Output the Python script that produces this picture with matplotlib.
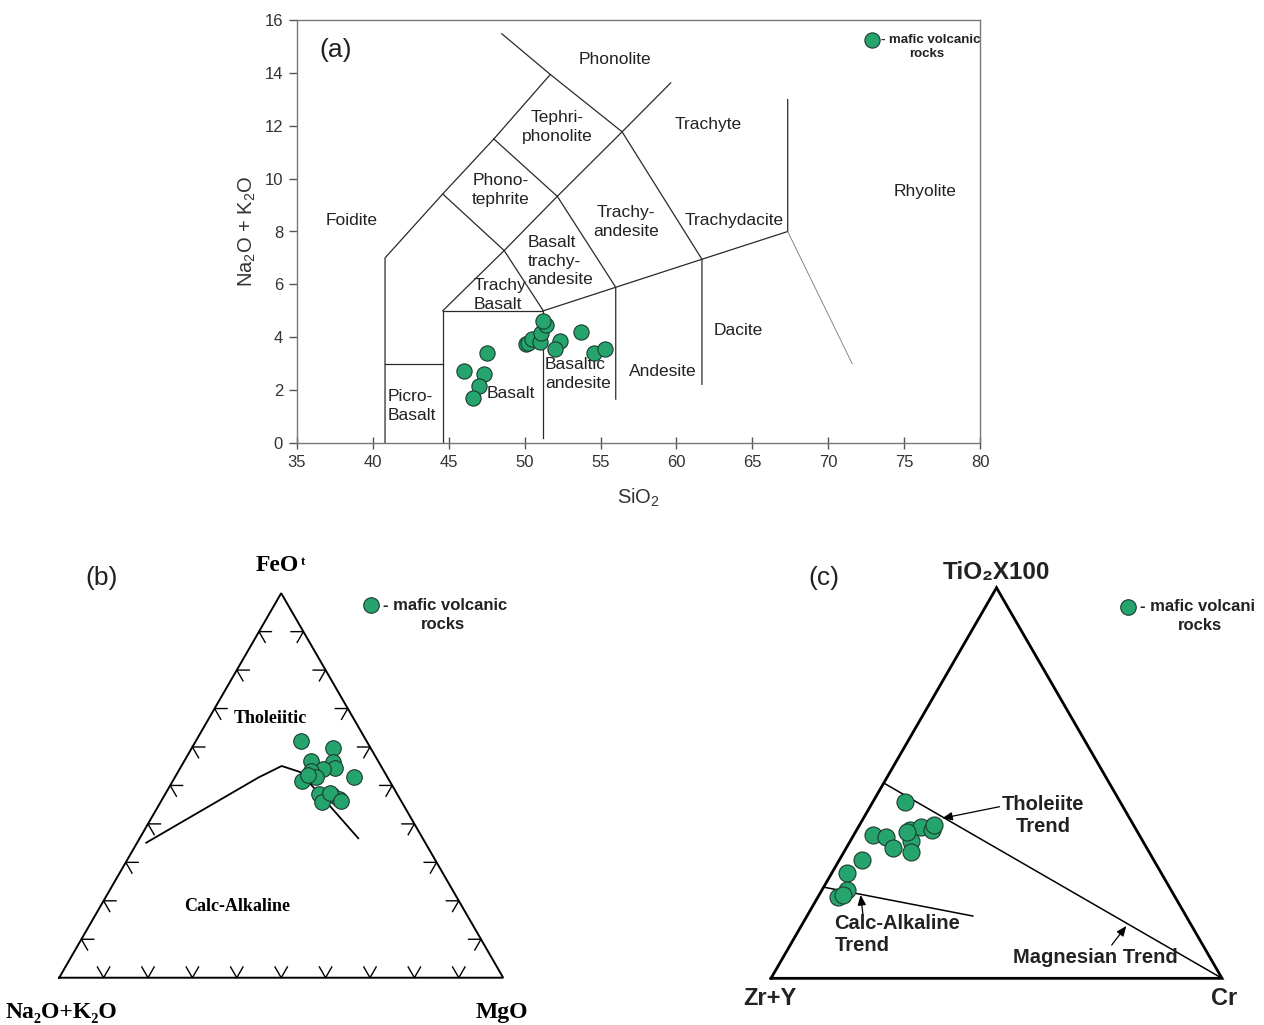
import numpy as np
import matplotlib
matplotlib.use('Agg')
import matplotlib.pyplot as plt

plt.rcParams['font.family'] = ['Liberation Sans', 'DejaVu Sans']
plt.rcParams['mathtext.fontset'] = 'custom'
plt.rcParams['mathtext.rm'] = 'Liberation Sans'
plt.rcParams['mathtext.it'] = 'Liberation Sans:italic'
plt.rcParams['mathtext.bf'] = 'Liberation Sans:bold'

GREEN = '#25a56d'
EDGE = '#1d3b2e'
LINE = '#2a2a2a'

# ---------------- (a) TAS data ----------------
sio2 = [46.0, 47.5, 47.3, 47.0, 46.6, 50.1, 50.2, 50.5, 51.0, 51.1, 51.4, 51.2,
        52.3, 52.0, 53.7, 54.6, 55.3]
alkali = [2.72, 3.39, 2.61, 2.16, 1.71, 3.73, 3.77, 3.92, 3.83, 4.17, 4.46, 4.61,
          3.87, 3.56, 4.21, 3.42, 3.54]

tas_boundaries = [
    [(40.8, 0), (40.8, 7.0), (44.6, 9.42), (47.97, 11.5), (51.69, 13.94)],
    [(40.8, 3.0), (44.6, 3.0)],
    [(44.6, 0), (44.6, 5.0), (51.23, 5.0), (51.23, 0.2)],
    [(44.6, 5.0), (48.65, 7.28), (52.15, 9.33), (56.42, 11.77), (59.62, 13.62)],
    [(48.49, 15.48), (51.69, 13.94), (56.42, 11.77), (61.68, 6.95), (61.68, 2.22)],
    [(44.6, 9.42), (48.65, 7.28), (51.23, 5.0)],
    [(47.97, 11.5), (52.15, 9.33), (56.0, 5.89), (56.0, 1.66)],
    [(51.23, 5.0), (56.0, 5.89), (61.68, 6.95), (67.33, 8.0), (67.33, 12.99)],
]
tas_thin = [(67.33, 8.0), (71.58, 3.0)]

# field labels: (text, x, y, ha)
tas_labels = [
    ("Phonolite", 55.95, 14.49, 'center'),
    ("Tephri-\nphonolite", 52.13, 11.95, 'center'),
    ("Trachyte", 62.08, 12.03, 'center'),
    ("Phono-\ntephrite", 48.44, 9.57, 'center'),
    ("Rhyolite", 76.38, 9.53, 'center'),
    ("Foidite", 38.62, 8.40, 'center'),
    ("Trachy-\nandesite", 56.68, 8.36, 'center'),
    ("Trachydacite", 63.79, 8.43, 'center'),
    ("Basalt\ntrachy-\nandesite", 50.2, 6.88, 'left'),
    ("Trachy\nBasalt", 46.66, 5.6, 'left'),
    ("Dacite", 64.06, 4.24, 'center'),
    ("Basaltic\nandesite", 51.34, 2.61, 'left'),
    ("Andesite", 59.11, 2.72, 'center'),
    ("Basalt", 49.1, 1.89, 'center'),
    ("Picro-\nBasalt", 41.0, 1.40, 'left'),
]

# ---------------- (b) AFM data (FeOt, Na2O+K2O, MgO) ----------------
afm_F = [61.6, 59.8, 56.4, 56.2, 54.5, 54.2, 53.8, 52.3, 51.2, 52.1, 47.8, 47.5,
         46.4, 45.8, 52.7, 48.0, 46.0]
afm_A = [14.8, 8.4, 15.2, 10.2, 10.6, 13.4, 16.3, 16.1, 19.7, 7.5, 17.6, 14.8,
         13.8, 18.0, 17.6, 15.0, 13.6]
afm_M = [23.7, 31.8, 28.5, 33.6, 34.9, 32.4, 29.9, 31.6, 29.1, 40.4, 34.7, 37.7,
         39.8, 36.2, 29.7, 37.1, 40.4]
afm_line_F = [35.1, 52.08, 55.06, 53.5, 36.26]
afm_line_A = [62.85, 29.06, 22.36, 19.02, 14.51]
afm_line_M = [2.05, 18.86, 22.58, 27.48, 49.23]

# ---------------- (c) TiO2-(Zr+Y)-Cr data ----------------
c_Ti = [45.1, 36.7, 36.1, 33.3, 38.0, 35.2, 32.4, 38.7, 38.0, 39.3, 30.3, 27.0,
        22.6, 20.9, 21.3, 37.5]
c_ZrY = [47.8, 59.1, 56.4, 56.4, 50.1, 51.4, 52.8, 47.3, 45.4, 44.3, 64.7, 69.7,
         71.9, 74.7, 73.3, 51.0]
c_Cr = [7.1, 4.2, 7.5, 10.3, 11.9, 13.5, 14.8, 14.0, 16.7, 16.4, 5.0, 3.3,
        5.5, 4.4, 5.4, 11.5]
thol_line_Ti, thol_line_ZrY, thol_line_Cr = [50, 0], [50, 0], [0, 100]
calc_line_Ti, calc_line_ZrY, calc_line_Cr = [23.3, 15.95], [76.5, 47.28], [0.2, 36.77]

SQ3 = np.sqrt(3) / 2


def tern(top, left, right):
    top = np.asarray(top, float)
    left = np.asarray(left, float)
    right = np.asarray(right, float)
    s = top + left + right
    t, r = top / s, right / s
    return r + t / 2, t * SQ3


def draw_triangle(ax, lw, ticks=False):
    xs, ys = tern([0, 0, 100, 0], [100, 0, 0, 100], [0, 100, 0, 0])
    ax.plot(xs, ys, color='black', lw=lw, solid_joinstyle='miter', zorder=2)
    if ticks:
        L = 0.028
        for i in range(1, 10):
            f = i / 10
            segs = [
                ((f, 0), (-0.5, SQ3), (0.5, SQ3)),
                ((f * 0.5, f * SQ3), (1, 0), (0.5, -SQ3)),
                ((1 - f * 0.5, f * SQ3), (-1, 0), (-0.5, -SQ3)),
            ]
            for p, d1, d2 in segs:
                ax.plot([p[0] + L * d1[0], p[0], p[0] + L * d2[0]],
                        [p[1] + L * d1[1], p[1], p[1] + L * d2[1]],
                        color='black', lw=1.0, zorder=2)


fig = plt.figure(figsize=(12.64, 10.25), dpi=100)

# ================= panel (a) =================
ax = fig.add_axes([297 / 1264, 1 - 443 / 1025, 683 / 1264, 423 / 1025])
ax.set_xlim(35, 80)
ax.set_ylim(0, 16)
ax.set_xticks(np.arange(35, 81, 5))
ax.set_yticks(np.arange(0, 17, 2))
ax.tick_params(axis='x', direction='inout', length=9, width=1, colors='#555',
               labelsize=12, labelcolor='#333', pad=4)
ax.tick_params(axis='y', direction='out', length=6, width=1, colors='#555',
               labelsize=12, labelcolor='#333', pad=4)
for sp in ax.spines.values():
    sp.set_color('#777')
    sp.set_linewidth(1.0)
for seg in tas_boundaries:
    xs, ys = zip(*seg)
    ax.plot(xs, ys, color=LINE, lw=0.9, zorder=2)
xs, ys = zip(*tas_thin)
ax.plot(xs, ys, color='#777', lw=0.6, zorder=2)
for txt, x, y, ha in tas_labels:
    ax.text(x, y, txt, ha=ha, va='center', fontsize=12.5, color='#222',
            linespacing=1.3, multialignment='left' if ha == 'left' else 'center',
            zorder=3)
ax.scatter(sio2, alkali, s=120, color=GREEN, edgecolor=EDGE, linewidth=0.8, zorder=4)
ax.text(37.57, 14.86, "(a)", fontsize=19, ha='center', va='center', color='#222')
ax.set_xlabel("SiO$_2$", fontsize=14.5, color='#333', labelpad=12)
ax.set_ylabel("Na$_2$O + K$_2$O", fontsize=14.5, color='#333', labelpad=5)
# legend key
ax.scatter([72.88], [15.24], s=120, color=GREEN, edgecolor=EDGE, linewidth=0.8,
           zorder=4, clip_on=False)
ax.text(73.45, 15.24, "- mafic volcanic", fontsize=9.5, fontweight='bold',
        ha='left', va='center', color='#222')
ax.text(76.5, 14.71, "rocks", fontsize=9.5, fontweight='bold',
        ha='center', va='center', color='#222')

# ================= panel (b) =================
axb = fig.add_axes([0, 0, 540 / 1264, 485 / 1025])
axb.set_xlim(-0.1333, 1.0829)
axb.set_ylim(-0.1065, 0.9858)
axb.axis('off')
draw_triangle(axb, 1.4, ticks=True)
lx, ly = tern(afm_line_F, afm_line_A, afm_line_M)
axb.plot(lx, ly, color='black', lw=1.3, zorder=2)
px, py = tern(afm_F, afm_A, afm_M)
axb.scatter(px, py, s=125, color=GREEN, edgecolor=EDGE, linewidth=0.8, zorder=4)
serif = ['Liberation Serif', 'DejaVu Serif']
axb.text(0.492, 0.9273, "FeO", family=serif, fontweight='bold', fontsize=17,
         ha='center', va='center')
axb.text(0.549, 0.936, "t", family=serif, fontweight='bold', fontsize=9,
         ha='center', va='center')
axb.text(0.0063, -0.0777, "Na\u2082O+K\u2082O", family=serif, fontweight='bold',
         fontsize=17, ha='center', va='center')
axb.text(0.9973, -0.0777, "MgO", family=serif, fontweight='bold', fontsize=17,
         ha='center', va='center')
axb.text(0.4752, 0.5827, "Tholeiitic", family=serif, fontweight='bold',
         fontsize=13, ha='center', va='center')
axb.text(0.4005, 0.1615, "Calc-Alkaline", family=serif, fontweight='bold',
         fontsize=13, ha='center', va='center')
axb.text(0.0964, 0.9002, "(b)", fontsize=19, ha='center', va='center', color='#222')
axb.scatter([0.7023], [0.8394], s=125, color=GREEN, edgecolor=EDGE, linewidth=0.8,
            zorder=4)
axb.text(0.7300, 0.8394, "- mafic volcanic", fontsize=12, fontweight='bold',
         ha='left', va='center', color='#222')
axb.text(0.8644, 0.7966, "rocks", fontsize=12, fontweight='bold',
         ha='center', va='center', color='#222')

# ================= panel (c) =================
axc = fig.add_axes([720 / 1264, 0, 544 / 1264, 485 / 1025])
axc.set_xlim(-0.1131, 1.0931)
axc.set_ylim(-0.1035, 0.9718)
axc.axis('off')
draw_triangle(axc, 2.0)
tx, ty = tern(thol_line_Ti, thol_line_ZrY, thol_line_Cr)
axc.plot(tx, ty, color='black', lw=1.1, zorder=2)
cx, cy = tern(calc_line_Ti, calc_line_ZrY, calc_line_Cr)
axc.plot(cx, cy, color='black', lw=1.1, zorder=2)
qx, qy = tern(c_Ti, c_ZrY, c_Cr)
axc.scatter(qx, qy, s=150, color=GREEN, edgecolor=EDGE, linewidth=0.8, zorder=4)
arrow_kw = dict(arrowstyle='-|>,head_length=0.6,head_width=0.25', color='black',
                lw=0.9, shrinkA=0, shrinkB=0)
axc.annotate("", xy=(0.3796, 0.3548), xytext=(0.5067, 0.3805), arrowprops=arrow_kw)
axc.annotate("", xy=(0.1987, 0.1847), xytext=(0.2040, 0.1404), arrowprops=arrow_kw)
axc.annotate("", xy=(0.7878, 0.1160), xytext=(0.7554, 0.0738), arrowprops=arrow_kw)
bold = dict(fontweight='bold', color='#222')
axc.text(0.603, 0.361, "Tholeiite\nTrend", fontsize=14.5, ha='center', va='center',
         linespacing=1.25, **bold)
axc.text(0.141, 0.0978, "Calc-Alkaline\nTrend", fontsize=14.5, ha='left',
         va='center', multialignment='left', linespacing=1.2, **bold)
axc.text(0.7184, 0.0466, "Magnesian Trend", fontsize=14.5, ha='center',
         va='center', **bold)
axc.text(0.4989, 0.8987, "TiO\u2082X100", fontsize=17.5, ha='center', va='center',
         **bold)
axc.text(-0.0022, -0.0437, "Zr+Y", fontsize=17, ha='center', va='center', **bold)
axc.text(1.0044, -0.0437, "Cr", fontsize=17, ha='center', va='center', **bold)
axc.text(0.1175, 0.8876, "(c)", fontsize=19, ha='center', va='center', color='#222')
axc.scatter([0.7916], [0.8233], s=125, color=GREEN, edgecolor=EDGE, linewidth=0.8,
            zorder=4)
axc.text(0.8180, 0.8233, "- mafic volcani", fontsize=12, ha='left', va='center',
         **bold)
axc.text(0.9512, 0.7833, "rocks", fontsize=12, ha='center', va='center', **bold)

fig.savefig('out.png', dpi=100)
